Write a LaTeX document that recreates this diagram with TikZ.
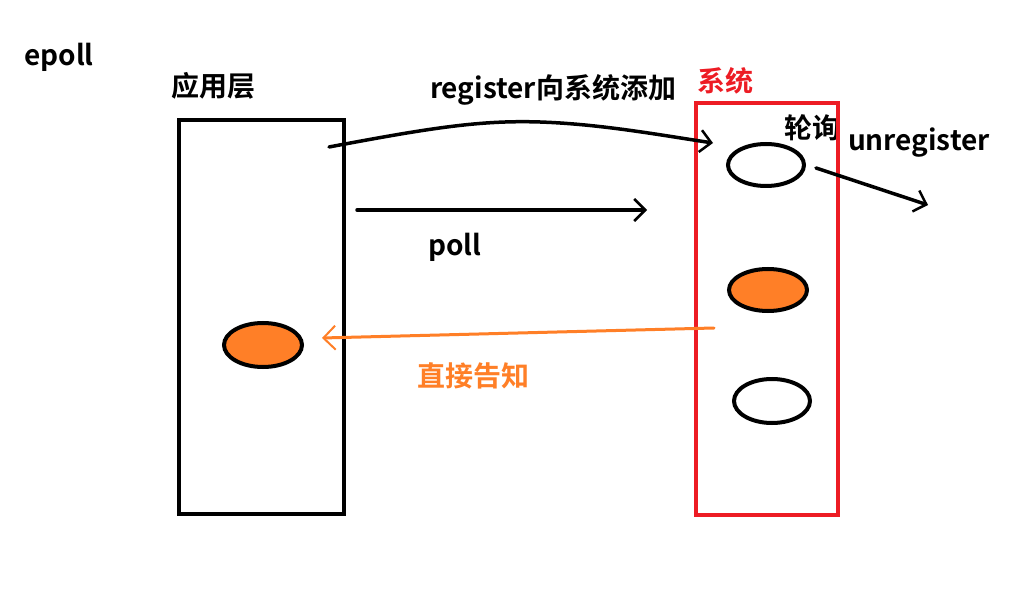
\documentclass[tikz,border=0pt]{standalone}
\usepackage{fontspec}
\setmainfont{Noto Sans CJK SC}[BoldFont={* Bold}]
\newfontfamily\cjkb{Noto Sans CJK SC Bold}
\usetikzlibrary{arrows.meta}
\definecolor{myorange}{RGB}{255,127,39}
\definecolor{myred}{RGB}{237,28,36}
\tikzset{
  lbl/.style={font=\cjkb\fontsize{28}{30}\selectfont, inner sep=0pt},
  box/.style={draw, line width=4pt},
  arr/.style={line width=3.5pt, line cap=round, -{Straight Barb[length=11pt,width=22pt,line width=2.5pt]}},
}
\begin{document}
\begin{tikzpicture}[x=1pt,y=-1pt]
\useasboundingbox (0,0) rectangle (1018,604);
\fill[white] (0,0) rectangle (1018,604);
% texts
\node[lbl] (epoll) at (59,57) {epoll};
\node[lbl] (app) at (213,86) {应用层};
\node[lbl, text=myred] (sys) at (725,81) {系统};
\node[lbl] (reg) at (553,90) {register向系统添加};
\node[lbl] (poll) at (455,247) {poll};
\node[lbl] (lun) at (812,128) {轮询};
\node[lbl] (unreg) at (919,143) {unregister};
\node[lbl, text=myorange] (tell) at (473,376) {直接告知};
% boxes
\draw[box] (179,120) rectangle (344,514);
\draw[box, draw=myred] (696,103) rectangle (838,515);
% ellipses
\draw[line width=4pt, fill=white] (766,165) ellipse [x radius=38, y radius=21];
\draw[line width=4pt, fill=myorange] (768,290) ellipse [x radius=39, y radius=21];
\draw[line width=4pt, fill=white] (772,401) ellipse [x radius=38, y radius=22];
\draw[line width=4pt, fill=myorange] (263,345) ellipse [x radius=39, y radius=22];
% coordinates
\coordinate (r1) at (329,147);
\coordinate (r2) at (713,143);
\coordinate (p1) at (357,210);
\coordinate (p2) at (647,210);
\coordinate (u1) at (816,168);
\coordinate (u2) at (928,205);
\coordinate (o1) at (714,328);
\coordinate (o2) at (322,338);
% connectors
\draw[arr] (r1) .. controls (430,128) and (480,120) .. (540,122) .. controls (600,124) and (660,135) .. (r2);
\draw[arr] (p1) -- (p2);
\draw[arr] (u1) -- (u2);
\draw[arr, draw=myorange, line width=3pt, -{Straight Barb[length=12pt,width=24pt,line width=2pt]}] (o1) -- (o2);
\end{tikzpicture}
\end{document}
